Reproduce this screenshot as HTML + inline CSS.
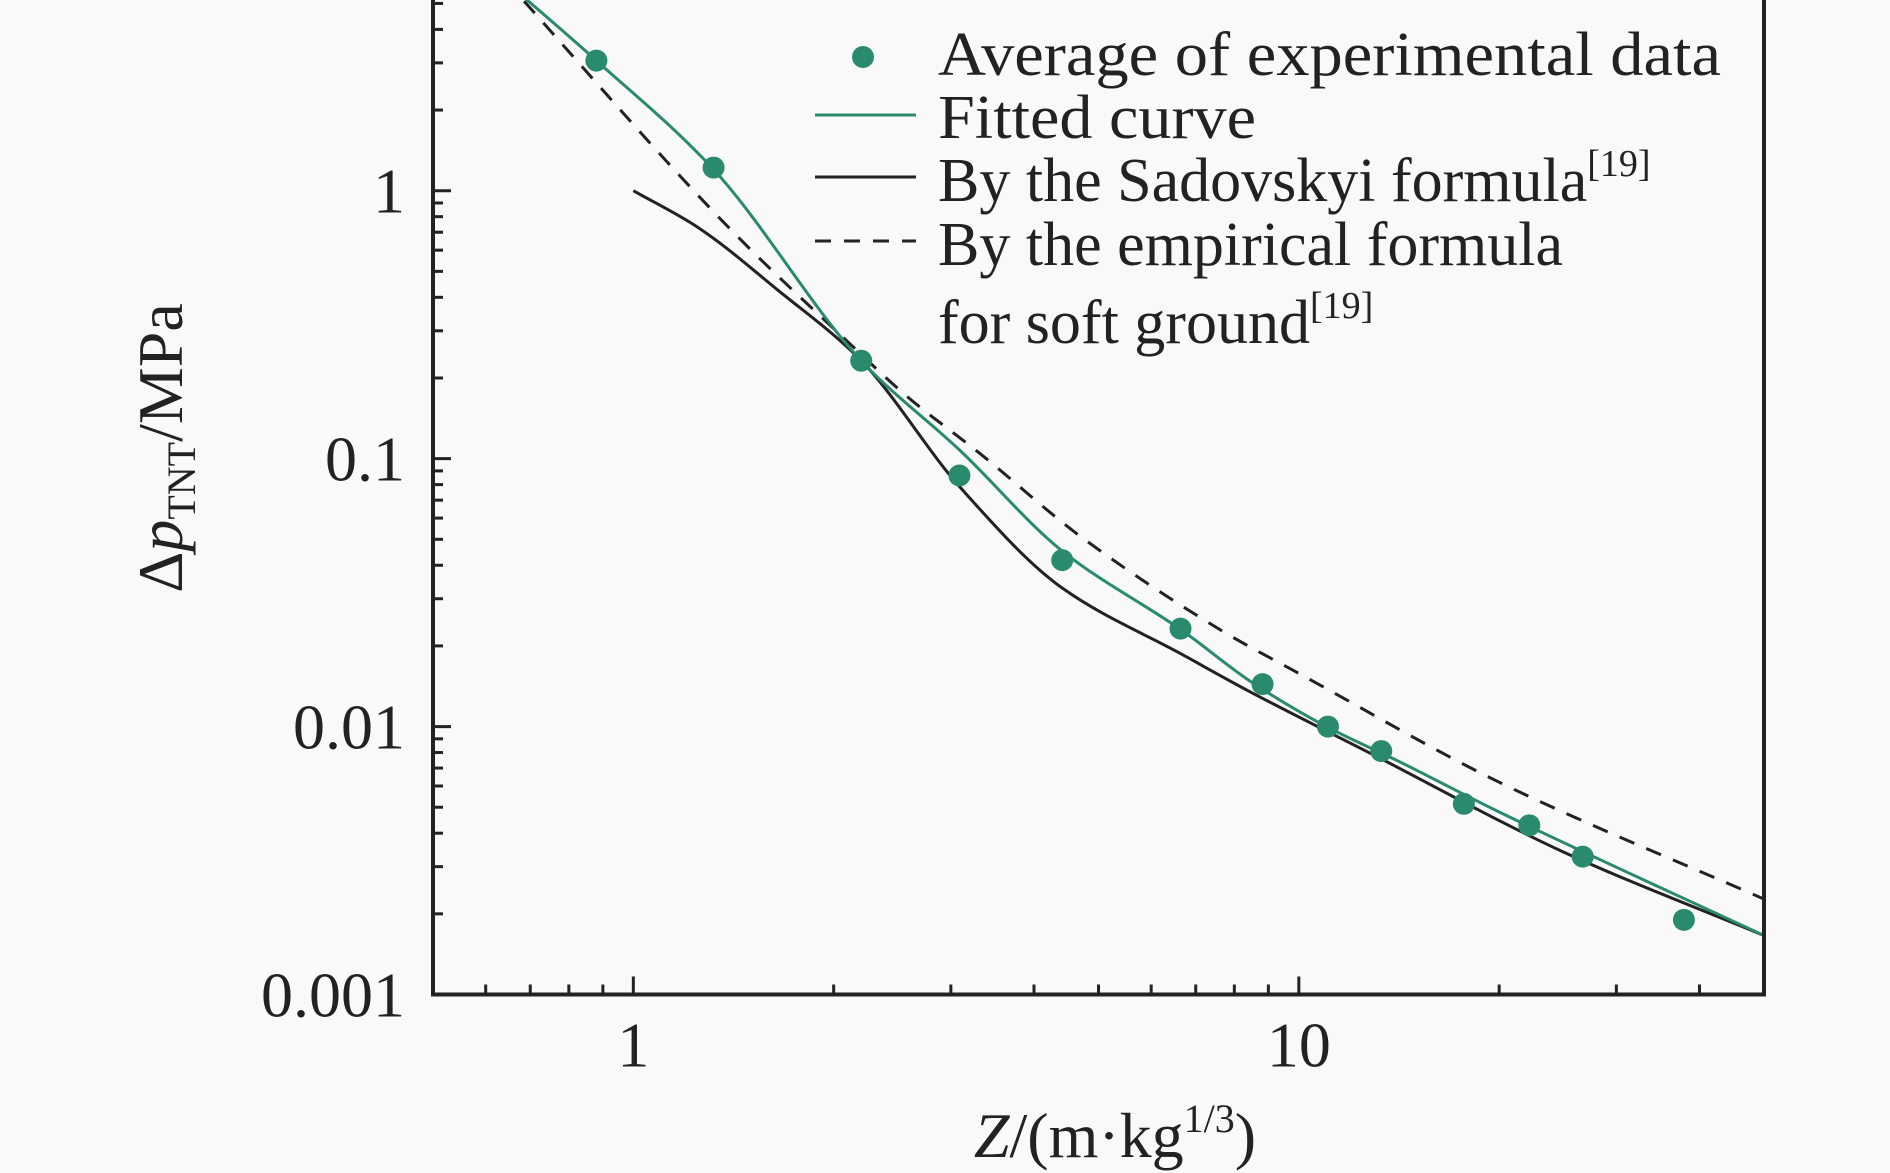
<!DOCTYPE html>
<html><head><meta charset="utf-8"><style>
body{margin:0;background:#f9f9f9}
svg{display:block}
text{font-family:"Liberation Serif",serif;fill:#222}
</style></head><body>
<svg id="chart" width="1890" height="1173" viewBox="0 0 1890 1173" xmlns="http://www.w3.org/2000/svg">
<rect width="1890" height="1173" fill="#f9f9f9"/>
<g id="plot"></g>
<g id="axes"></g>
<text transform="translate(182,448) rotate(-90)" text-anchor="middle" font-size="64">Δ<tspan font-style="italic">p</tspan><tspan font-size="40" dy="13">TNT</tspan><tspan dy="-13">/MPa</tspan></text>
<text x="1115" y="1157" text-anchor="middle" font-size="64"><tspan font-style="italic">Z</tspan>/(m·kg<tspan font-size="40" dy="-25">1/3</tspan><tspan dy="25">)</tspan></text>
<g id="legend">
<circle cx="863" cy="57" r="11" fill="#2a8a6e"/>
<text x="938" y="75" font-size="62" textLength="783" lengthAdjust="spacingAndGlyphs">Average of experimental data</text>
<line x1="815" y1="115" x2="916" y2="115" stroke="#2a8a6e" stroke-width="3"/>
<text x="938" y="138" font-size="62" textLength="318" lengthAdjust="spacingAndGlyphs">Fitted curve</text>
<line x1="815" y1="177" x2="916" y2="177" stroke="#222" stroke-width="3"/>
<text x="938" y="201" font-size="62">By the Sadovskyi formula<tspan font-size="38" dy="-25">[19]</tspan></text>
<line x1="815" y1="241" x2="916" y2="241" stroke="#222" stroke-width="3" stroke-dasharray="16,13"/>
<text x="938" y="265" font-size="62">By the empirical formula</text>
<text x="938" y="343" font-size="62">for soft ground<tspan font-size="38" dy="-25">[19]</tspan></text>
</g>
</svg>
<script>
const dataZ=[0.88,1.32,2.2,3.09,4.41,6.64,8.82,11.06,13.3,17.7,22.2,26.7,37.9];
const dataP=[3.06,1.22,0.232,0.0865,0.0418,0.0232,0.0144,0.01,0.0081,0.00515,0.00428,0.00327,0.0019];
const fitZ=[0.6,0.88,1.32,2.2,3.1,4.41,6.7,8.44,11,14,20,50];
const fitP=[7.0,3.06,1.2,0.232,0.107,0.0452,0.0227,0.0148,0.0100,0.0075,0.0048,0.00166];
const sadZ=[1,1.25,1.65,2.2,3.1,4.41,6.7,8.44,13,25,50];
const sadP=[1,0.73,0.425,0.232,0.078,0.0329,0.0185,0.0135,0.0078,0.0034,0.00166];
const empZ=[0.6,0.685,1.39,2.09,2.59,3.31,4.72,7.68,10,20,50];
const empP=[7.4,5.1,0.73,0.276,0.169,0.105,0.0508,0.0227,0.0158,0.0062,0.00227];
const xTicks=[1,10];const xTickLabels=["1","10"];
const yTicks=[0.001,0.01,0.1,1];const yTickLabels=["0.001","0.01","0.1","1"];
const L=433,R=1764,T=0,B=994.5;
const xMin=0.5,xMax=50,yMin=0.001,yMax=5.15;
function X(v){return L+(Math.log10(v)-Math.log10(xMin))/(Math.log10(xMax)-Math.log10(xMin))*(R-L);}
function Y(v){return B-(Math.log10(v)-Math.log10(yMin))/(Math.log10(yMax)-Math.log10(yMin))*(B-T);}
const NS="http://www.w3.org/2000/svg";
function mk(t,a,p){const e=document.createElementNS(NS,t);for(const k in a)e.setAttribute(k,a[k]);p.appendChild(e);return e;}
function pathD(xs,ys){const px=xs.map(X),py=ys.map(Y),n=px.length;const d=[],m=[];
for(let i=0;i<n-1;i++)d.push((py[i+1]-py[i])/(px[i+1]-px[i]));
m[0]=d[0];m[n-1]=d[n-2];for(let i=1;i<n-1;i++){m[i]=(d[i-1]*d[i]<=0)?0:2/(1/d[i-1]+1/d[i]);}
let s="M"+px[0]+","+py[0];
for(let i=0;i<n-1;i++){const h=(px[i+1]-px[i])/3;s+=" C"+(px[i]+h)+","+(py[i]+m[i]*h)+" "+(px[i+1]-h)+","+(py[i+1]-m[i+1]*h)+" "+px[i+1]+","+py[i+1];}
return s;}
const plot=document.getElementById('plot'),axes=document.getElementById('axes');
const defs=mk('defs',{},plot);const cp=mk('clipPath',{id:'cp'},defs);mk('rect',{x:L,y:T,width:R-L,height:B-T},cp);
const g=mk('g',{'clip-path':'url(#cp)'},plot);


let e=mk('path',{d:pathD(empZ,empP),fill:'none',stroke:'#222','stroke-width':3,'stroke-dasharray':'16,13'},g);


e=mk('path',{d:pathD(sadZ,sadP),fill:'none',stroke:'#222','stroke-width':3},g);


e=mk('path',{d:pathD(fitZ,fitP),fill:'none',stroke:'#2a8a6e','stroke-width':3},g);


dataZ.forEach((z,i)=>{const c=mk('circle',{cx:X(z),cy:Y(dataP[i]),r:11,fill:'#2a8a6e'},g);

});
let f=mk('path',{d:`M${L},${T} L${L},${B} L${R},${B} L${R},${T}`,fill:'none',stroke:'#222','stroke-width':4},axes);


for(let dec=0.1;dec<=10;dec*=10){for(let m=1;m<10;m++){const v=dec*m;if(v<xMin-1e-9||v>xMax+1e-9)continue;const maj=m===1;
const t=mk('line',{x1:X(v),x2:X(v),y1:B,y2:B-(maj?18:10),stroke:'#222','stroke-width':3},axes);

}}
xTicks.forEach((v,i)=>{const t=mk('text',{x:X(v),y:B+72,'text-anchor':'middle','font-size':64},axes);t.textContent=xTickLabels[i];

});
for(let dec=0.001;dec<=1.01;dec*=10){for(let m=1;m<10;m++){const v=dec*m;if(v>yMax)continue;const maj=m===1;
const t=mk('line',{x1:L,x2:L+(maj?18:10),y1:Y(v),y2:Y(v),stroke:'#222','stroke-width':3},axes);

}}
yTicks.forEach((v,i)=>{const t=mk('text',{x:L-28,y:Y(v)+22,'text-anchor':'end','font-size':64},axes);t.textContent=yTickLabels[i];

});
</script>
</body></html>
